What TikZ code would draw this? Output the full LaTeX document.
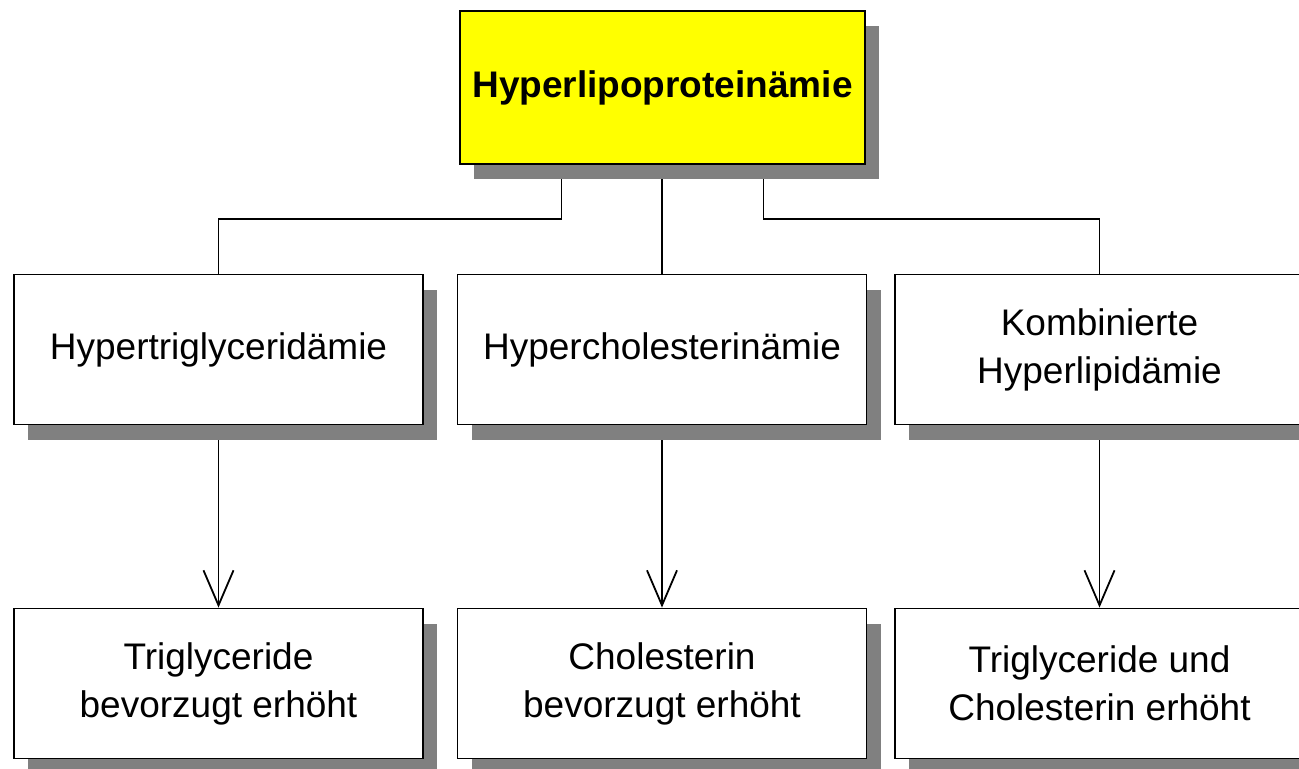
\documentclass[tikz,border=0pt]{standalone}
\usepackage{fontspec}
\setmainfont{Liberation Sans}
\usetikzlibrary{arrows.meta,shadows,backgrounds}
\definecolor{gelb}{RGB}{255,255,0}
\tikzset{
  box/.style={draw, line width=0.9pt, fill=white, align=center, inner sep=0pt,
    minimum width=204.5pt, minimum height=75pt, font=\fontsize{18.5}{24}\selectfont,
    drop shadow={shadow xshift=7pt, shadow yshift=-7.5pt, fill=black!50, opacity=1}},
  topbox/.style={box, fill=gelb, minimum width=202.5pt, minimum height=76.5pt,
    font=\fontsize{18.5}{24}\selectfont\bfseries},
  link/.style={line width=0.9pt},
  pfeil/.style={line width=0.9pt, -{Straight Barb[length=17.5pt,width=15pt]}},
}
\begin{document}
\begin{tikzpicture}[x=0.5pt,y=-0.5pt]
\clip (0,0) rectangle (1299,768);
% oben
\node[topbox] (hlp) at (662.5,87.5) {Hyperlipoproteinämie};
% mittlere Reihe
\node[box] (htg) at (218.5,349.5) {Hypertriglyceridämie};
\node[box] (hch) at (662,349.5) {Hypercholesterinämie};
\node[box] (khl) at (1099.5,349.5) {Kombinierte\\Hyperlipidämie};
% untere Reihe
\node[box] (tgb) at (218.5,683.5) {Triglyceride\\bevorzugt erhöht};
\node[box] (chb) at (662,683.5) {Cholesterin\\bevorzugt erhöht};
\node[box] (tch) at (1099.5,683.5) {Triglyceride und\\Cholesterin erhöht};
\begin{pgfonlayer}{background}
\draw[link] ([xshift=-50.5pt]hlp.south) -- ++(0,54) -| (htg.north);
\draw[link] (hlp.south -| hch.north) -- (hch.north);
\draw[link] ([xshift=50.5pt]hlp.south) -- ++(0,54) -| (khl.north);
\draw[pfeil] (htg) -- (tgb);
\draw[pfeil] (hch) -- (chb);
\draw[pfeil] (khl) -- (tch);
\end{pgfonlayer}
\end{tikzpicture}
\end{document}
